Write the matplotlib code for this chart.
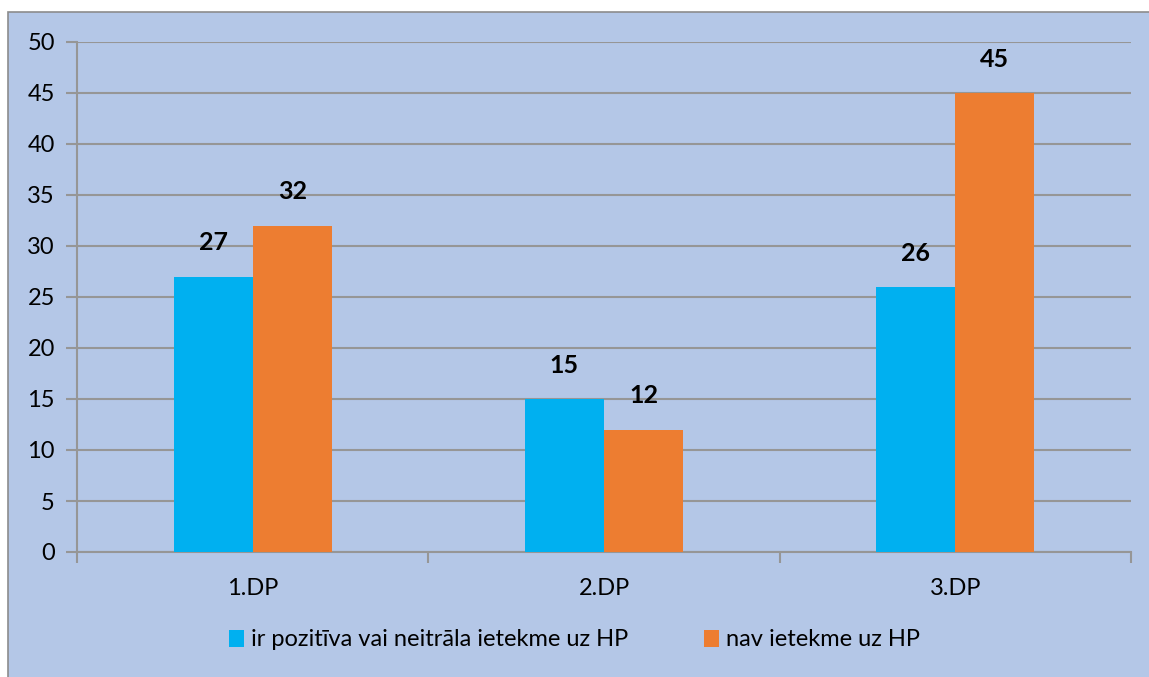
import numpy as np
import matplotlib.pyplot as plt
from matplotlib.patches import Rectangle

plt.rcParams['font.family'] = ['Lato', 'DejaVu Sans']

# Donnees du graphique
categories = ['1.DP', '2.DP', '3.DP']
series_names = ['ir pozitīva vai neitrāla ietekme uz HP', 'nav ietekme uz HP']
pozitiva = [27, 15, 26]
nav_ietekme = [32, 12, 45]
y_ticks = [0, 5, 10, 15, 20, 25, 30, 35, 40, 45, 50]

col_cyan = '#00B0F0'
col_orange = '#ED7D31'
bg = '#B4C7E7'
grid_col = '#969696'
fs = 17

fig = plt.figure(figsize=(11.49, 6.77), dpi=100)
fig.patch.set_facecolor('white')

# cadre bleu clair du graphique
fig.patches.append(Rectangle((8 / 1149, -0.05), 1.2, 1 - 12 / 677 + 0.05,
                             transform=fig.transFigure, facecolor=bg,
                             edgecolor='#8C8C8C', linewidth=1.2, zorder=-5))

ax = fig.add_axes([77 / 1149, 1 - 552 / 677, (1131 - 77) / 1149, (552 - 42) / 677])
ax.set_facecolor('none')

x = np.arange(len(categories))
w = 0.225
b1 = ax.bar(x - w / 2, pozitiva, w, color=col_cyan, label=series_names[0], zorder=3)
b2 = ax.bar(x + w / 2, nav_ietekme, w, color=col_orange, label=series_names[1], zorder=3)

for bars, vals in ((b1, pozitiva), (b2, nav_ietekme)):
    for r, v in zip(bars, vals):
        ax.annotate(str(v), (r.get_x() + r.get_width() / 2, v), xytext=(0, 16),
                    textcoords='offset points', ha='center', va='bottom',
                    fontsize=18, fontweight='bold', color='black')

ax.set_xlim(-0.5, 2.5)
ax.set_ylim(0, 50)
ax.set_yticks(y_ticks)
ax.set_yticklabels([str(t) for t in y_ticks], fontsize=fs)
ax.yaxis.grid(True, color=grid_col, linewidth=1.5, zorder=0)
ax.set_axisbelow(True)

ax.set_xticks(x)
ax.set_xticklabels(categories, fontsize=fs)
ax.set_xticks(np.arange(-0.5, 3, 1), minor=True)
ax.tick_params(axis='x', which='major', length=0, pad=19)
ax.tick_params(axis='x', which='minor', length=8, width=1.5, color=grid_col)
ax.tick_params(axis='y', length=8, width=1.5, color=grid_col, pad=8)

for s in ('top', 'right'):
    ax.spines[s].set_visible(False)
for s in ('left', 'bottom'):
    ax.spines[s].set_color(grid_col)
    ax.spines[s].set_linewidth(1.5)

fig.legend(handles=[b1, b2], labels=series_names, loc='center',
           bbox_to_anchor=(0.5, 1 - 640 / 677), ncol=2, frameon=False,
           fontsize=fs, handlelength=0.65, handleheight=0.7, handletextpad=0.3,
           columnspacing=3.2)

fig.savefig('out.png', dpi=100)
